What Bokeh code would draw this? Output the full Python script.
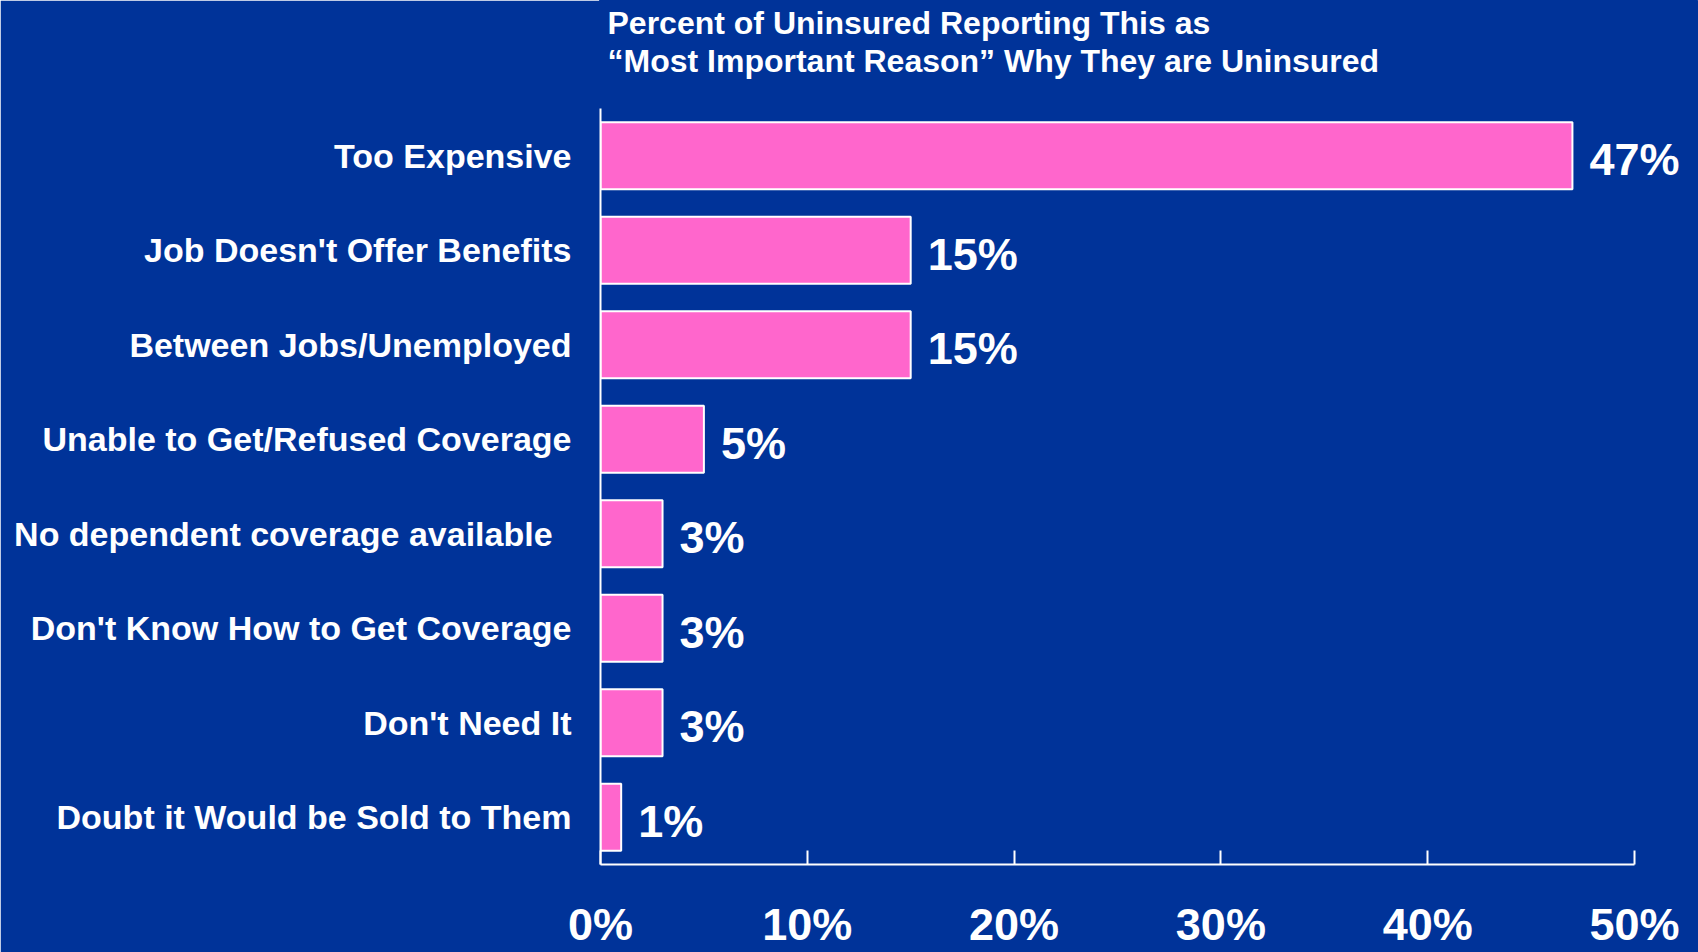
from bokeh.plotting import figure
from bokeh.models import Range1d, ColumnDataSource, FixedTicker
from bokeh.core.properties import value
from bokeh.embed import file_html
from bokeh.resources import INLINE

categories = ["Too Expensive", "Job Doesn't Offer Benefits", "Between Jobs/Unemployed",
              "Unable to Get/Refused Coverage", "No dependent coverage available\u00a0\u00a0",
              "Don't Know How to Get Coverage", "Don't Need It", "Doubt it Would be Sold to Them"]
values = [47, 15, 15, 5, 3, 3, 3, 1]
value_labels = ["47%", "15%", "15%", "5%", "3%", "3%", "3%", "1%"]
tick_values = [0, 10, 20, 30, 40, 50]
tick_labels = ["0%", "10%", "20%", "30%", "40%", "50%"]
title_lines = ["Percent of Uninsured Reporting This as",
               "\u201cMost Important Reason\u201d Why They are Uninsured"]

BG = "#003399"
PINK = "#FF66CC"
FONT = "Liberation Sans"

# layout (pixels)
TOP_SPACE = 108          # room above the category bands, used by the title
BAND_PX = 94.5           # height of one category band
TITLE_CENTERS = [22, 60] # title line centres, from the top of the page

n = len(categories)
ypos = [n - 1 - i for i in range(n)]          # first category at the top
y_top = n - 0.5 + TOP_SPACE / BAND_PX

p = figure(width=1698, height=952, output_backend="svg", toolbar_location=None,
           y_range=Range1d(-0.5, y_top), x_range=Range1d(0, 53),
           min_border_left=600, min_border_right=2, min_border_top=0, min_border_bottom=88,
           background_fill_color=BG, border_fill_color=BG,
           outline_line_color=BG, outline_line_width=3)
p.grid.visible = False

src = ColumnDataSource(dict(y=ypos, val=values, lab=value_labels))
p.hbar(y="y", right="val", left=0, height=0.71, source=src,
       fill_color=PINK, line_color="white", line_width=2)
p.text(x="val", y="y", text="lab", source=src, x_offset=17, y_offset=4,
       text_font=value(FONT), text_font_style="bold", text_font_size="45px",
       text_color="white", text_align="left", text_baseline="middle")

title_src = ColumnDataSource(dict(x=[0, 0], y=[y_top - c / BAND_PX for c in TITLE_CENTERS],
                                  t=title_lines))
p.text(x="x", y="y", text="t", source=title_src, x_offset=7,
       text_font=value(FONT), text_font_style="bold", text_font_size="32px",
       text_color="white", text_align="left", text_baseline="middle")

xa = p.xaxis[0]
xa.bounds = (0, 50)
xa.ticker = FixedTicker(ticks=tick_values)
xa.major_label_overrides = {t: l for t, l in zip(tick_values, tick_labels)}
xa.major_tick_in = 14
xa.major_tick_out = 0
xa.minor_tick_line_color = None
xa.axis_line_color = "white"
xa.axis_line_width = 2
xa.major_tick_line_color = "white"
xa.major_tick_line_width = 2
xa.major_label_text_color = "white"
xa.major_label_text_font = FONT
xa.major_label_text_font_style = "bold"
xa.major_label_text_font_size = "45px"
xa.major_label_standoff = 34

ya = p.yaxis[0]
ya.bounds = (-0.5, n - 0.5)
ya.ticker = FixedTicker(ticks=ypos)
ya.major_label_overrides = {y: c for y, c in zip(ypos, categories)}
ya.major_tick_in = 0
ya.major_tick_out = 0
ya.minor_tick_line_color = None
ya.axis_line_color = "white"
ya.axis_line_width = 2
ya.major_label_text_color = "white"
ya.major_label_text_font = FONT
ya.major_label_text_font_style = "bold"
ya.major_label_text_font_size = "34px"
ya.major_label_standoff = 29

open("out.html", "w").write(file_html(p, INLINE))
